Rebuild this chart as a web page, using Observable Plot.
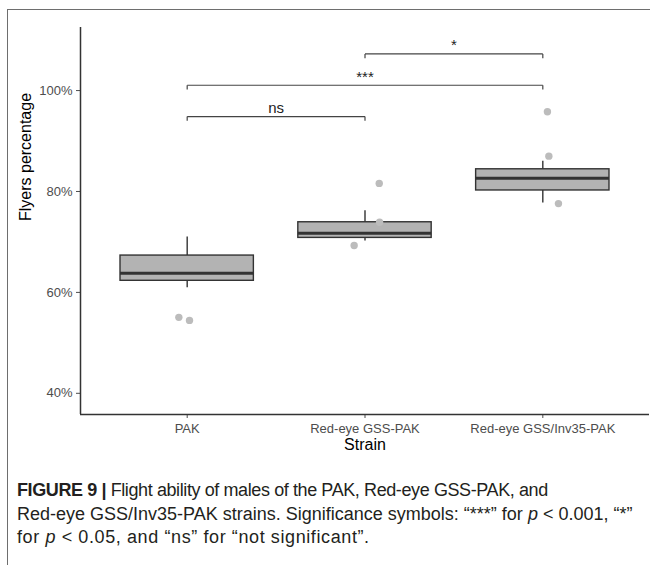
<!DOCTYPE html>
<html><head><meta charset="utf-8">
<script src="https://cdn.jsdelivr.net/npm/d3@7"></script>
<script src="https://cdn.jsdelivr.net/npm/@observablehq/plot@0.6"></script>
<style>
html,body{margin:0;padding:0;background:#fff;overflow:hidden;}
#wrap{position:relative;width:650px;height:565px;overflow:hidden;background:#fff;}
#frame{position:absolute;left:7px;top:9px;width:700px;height:600px;border-top:1.5px solid #6e6e6e;border-left:1.5px solid #6e6e6e;}
#chart{position:absolute;left:0;top:0;}
#caption{position:absolute;left:17px;top:479px;width:640px;font-family:"Liberation Sans",Arial,sans-serif;font-size:18px;line-height:23.5px;color:#231f20;white-space:nowrap;}
#caption .l1{letter-spacing:-0.4px;}
#caption .l3{letter-spacing:0.6px;}
</style></head>
<body><div id="wrap"><div id="frame"></div><div id="chart"></div>
<div id="caption"><span class="l1"><b>FIGURE 9 |</b> Flight ability of males of the PAK, Red-eye GSS-PAK, and</span><br><span class="l2">Red-eye GSS/Inv35-PAK strains. Significance symbols: “***” for <i>p</i> &lt; 0.001, “*”</span><br><span class="l3">for <i>p</i> &lt; 0.05, and “ns” for “not significant”.</span></div>
</div>
<script>
// ---- data ----
const strains = ["PAK", "Red-eye GSS-PAK", "Red-eye GSS/Inv35-PAK"];
const whiskerLow  = [60.9, 70.2, 77.7];
const q1          = [62.3, 70.8, 80.2];
const median      = [63.8, 71.7, 82.6];
const q3          = [67.3, 73.9, 84.4];
const whiskerHigh = [71.0, 76.2, 86.0];

const pointStrain = [0, 0, 1, 1, 1, 2, 2, 2];
const pointValue  = [55.05, 54.45, 81.6, 73.9, 69.3, 95.8, 87.0, 77.6];
const pointJitter = [-0.047, 0.013, 0.080, 0.082, -0.061, 0.026, 0.034, 0.088];

const yTicks = [40, 60, 80, 100];

const bracketFrom  = [0, 0, 1];
const bracketTo    = [1, 2, 2];
const bracketY     = [94.85, 101.05, 107.27];
const bracketLabel = ["ns", "***", "*"];

// ---- derived tables ----
const BOX_HALF = 0.375;
const TIP = 0.85;
const boxes = strains.map((s, i) => ({pos: i + 1, lo: whiskerLow[i], q1: q1[i], med: median[i], q3: q3[i], hi: whiskerHigh[i]}));
const points = pointValue.map((v, i) => ({x: pointStrain[i] + 1 + pointJitter[i], value: v}));
const brackets = bracketLabel.map((l, i) => ({a: bracketFrom[i] + 1, b: bracketTo[i] + 1, y: bracketY[i], label: l}));
const segs = brackets.flatMap(d => [
  {x1: d.a, x2: d.b, y1: d.y, y2: d.y},
  {x1: d.a, x2: d.a, y1: d.y, y2: d.y - TIP},
  {x1: d.b, x2: d.b, y1: d.y, y2: d.y - TIP}
]);

const dark = "#333333";
const plot = Plot.plot({
  width: 650, height: 460,
  marginLeft: 80, marginRight: 1, marginTop: 27, marginBottom: 46,
  style: {fontFamily: "'Liberation Sans', Arial, sans-serif", fontSize: "13px", background: "transparent", overflow: "visible"},
  x: {type: "linear", domain: [0.4, 3.6]},
  y: {domain: [35.8, 112.5]},
  marks: [
    Plot.axisY({ticks: yTicks, tickFormat: d => d + "%", tickSize: 4, tickPadding: 4, fontSize: 13, color: "#4d4d4d", label: null}),
    Plot.axisX({ticks: [1, 2, 3], tickFormat: d => strains[d - 1], tickSize: 4, tickPadding: 5, fontSize: 13, color: "#4d4d4d", label: null}),
    Plot.text(["Flyers percentage"], {text: d => d, frameAnchor: "left", dx: -55, rotate: -90, fontSize: 16, fill: "#000"}),
    Plot.text(["Strain"], {text: d => d, frameAnchor: "bottom", dy: 35, fontSize: 16, fill: "#000"}),
    Plot.ruleX(boxes, {x: "pos", y1: "q3", y2: "hi", stroke: dark, strokeWidth: 1.4}),
    Plot.ruleX(boxes, {x: "pos", y1: "lo", y2: "q1", stroke: dark, strokeWidth: 1.4}),
    Plot.rect(boxes, {x1: d => d.pos - BOX_HALF, x2: d => d.pos + BOX_HALF, y1: "q1", y2: "q3", fill: "#b3b3b3", stroke: dark, strokeWidth: 1.4}),
    Plot.ruleY(boxes, {y: "med", x1: d => d.pos - BOX_HALF, x2: d => d.pos + BOX_HALF, stroke: dark, strokeWidth: 3}),
    Plot.dot(points, {x: "x", y: "value", r: 3.7, fill: "#bcbcbc", stroke: null}),
    Plot.link(segs, {x1: "x1", x2: "x2", y1: "y1", y2: "y2", stroke: "#444", strokeWidth: 1.2}),
    Plot.text(brackets, {x: d => (d.a + d.b) / 2, y: "y", text: "label", lineAnchor: "bottom", dy: -3.5, fontSize: 15, fill: "#222"}),
    Plot.ruleX([0.4], {stroke: dark, strokeWidth: 1.5}),
    Plot.ruleY([35.8], {stroke: dark, strokeWidth: 1.5})
  ]
});
document.getElementById("chart").appendChild(plot);
</script>
</body></html>
